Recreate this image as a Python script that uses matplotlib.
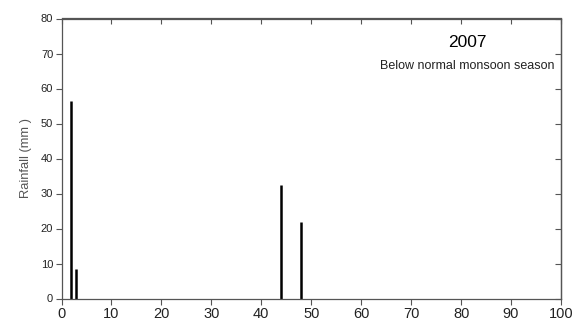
import matplotlib.pyplot as plt

plt.rcParams['font.family'] = ['Liberation Sans', 'DejaVu Sans']

# Rainfall events (day, mm)
days = [2, 3, 44, 48]
rain = [56.5, 8.3, 32.3, 22.0]

xticks = [0, 10, 20, 30, 40, 50, 60, 70, 80, 90, 100]
yticks = [0, 10, 20, 30, 40, 50, 60, 70, 80]

fig = plt.figure(figsize=(5.73, 3.22), dpi=100)
ax = fig.add_axes([61.5 / 573, 1 - 298.5 / 322, (561 - 61.5) / 573, (298.5 - 18.5) / 322])

ax.vlines(days, 0, rain, color='black', linewidth=1.8)

ax.set_xlim(0, 100)
ax.set_ylim(0, 80)
ax.set_xticks(xticks)
ax.set_yticks(yticks)
ax.tick_params(axis='x', labelsize=10.5, length=4, width=0.8, color='#555555',
               labelcolor='#222222', pad=2)
ax.tick_params(axis='y', labelsize=8, length=4, width=0.8, color='#555555',
               labelcolor='#222222', pad=2)

# inward ticks on top and right edges
top = ax.secondary_xaxis('top')
top.set_xticks(xticks)
top.tick_params(direction='in', length=4, width=0.8, color='#555555', labeltop=False)
right = ax.secondary_yaxis('right')
right.set_yticks(yticks)
right.tick_params(direction='in', length=4, width=0.8, color='#555555', labelright=False)

for sp in list(ax.spines.values()) + [top.spines['top'], right.spines['right']]:
    sp.set_color('#555555')
    sp.set_linewidth(0.9)

ax.set_ylabel('Rainfall (mm )', fontsize=9.3, color='#555555', labelpad=6)

ax.text(0.813, 0.914, '2007', transform=ax.transAxes, fontsize=12.5,
        ha='center', va='center', color='black')
ax.text(0.813, 0.831, 'Below normal monsoon season', transform=ax.transAxes,
        fontsize=9, ha='center', va='center', color='#222222')

fig.savefig('out.png', dpi=100)
